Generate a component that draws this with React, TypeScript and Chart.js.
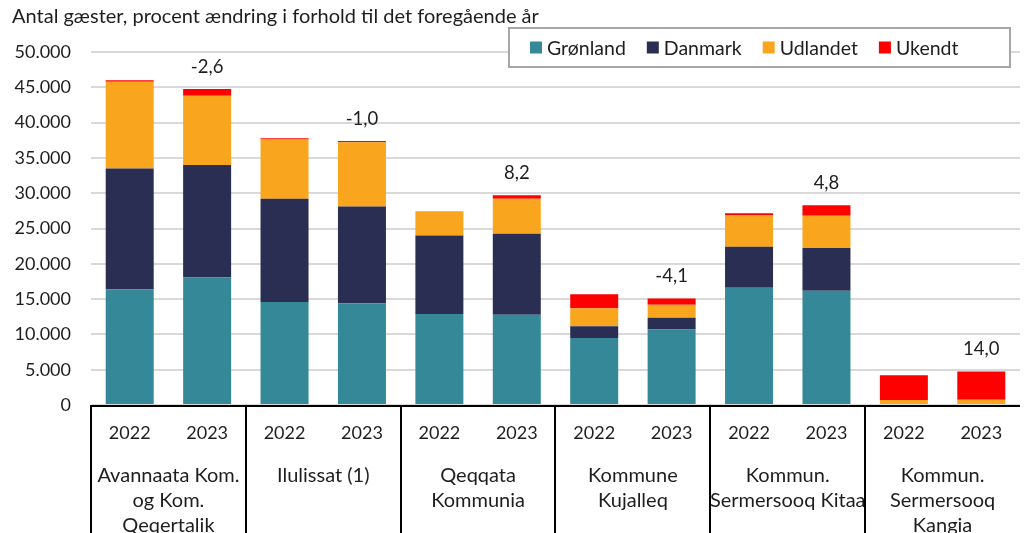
import React, { useEffect, useRef } from 'react';
import { Chart, registerables } from 'chart.js';

Chart.register(...registerables);

const years = ['2022', '2023', '2022', '2023', '2022', '2023', '2022', '2023', '2022', '2023', '2022', '2023'];
const groupLabels = [
  ['Avannaata Kom.', 'og Kom.', 'Qeqertalik'],
  ['Ilulissat (1)'],
  ['Qeqqata', 'Kommunia'],
  ['Kommune', 'Kujalleq'],
  ['Kommun.', 'Sermersooq Kitaa'],
  ['Kommun.', 'Sermersooq', 'Kangia'],
];
const gronland = [16400, 18100, 14600, 14400, 12900, 12800, 9500, 10700, 16600, 16200, 0, 0];
const danmark = [17100, 15900, 14600, 13700, 11100, 11450, 1650, 1650, 5800, 6050, 0, 0];
const udlandet = [12300, 9800, 8400, 9100, 3450, 4950, 2550, 1850, 4500, 4550, 700, 750];
const ukendt = [200, 950, 200, 200, 0, 500, 2000, 900, 250, 1500, 3500, 4000];
const pctChange = [null, '-2,6', null, '-1,0', null, '8,2', null, '-4,1', null, '4,8', null, '14,0'];
const yTicks = [0, 5000, 10000, 15000, 20000, 25000, 30000, 35000, 40000, 45000, 50000];
const title = 'Antal gæster, procent ændring i forhold til det foregående år';

const seriesNames = ['Grønland', 'Danmark', 'Udlandet', 'Ukendt'];
const seriesColors = ['#358898', '#2a2e52', '#f9a51e', '#ff0000'];

const FONT = 'Lato, "Open Sans", sans-serif';
const TEXT = '#1e1e1e';

const fmt = (n: number) => String(n).replace(/\B(?=(\d{3})+(?!\d))/g, '.');

const overlayPlugin = {
  id: 'overlay',
  afterDraw(chart: any) {
    const { ctx, chartArea, scales } = chart;
    const xs = scales.x;
    const ys = scales.y;
    const step = xs.getPixelForValue(1) - xs.getPixelForValue(0);
    ctx.save();

    // title
    ctx.fillStyle = TEXT;
    ctx.font = `20px ${FONT}`;
    ctx.textAlign = 'left';
    ctx.textBaseline = 'alphabetic';
    ctx.fillText(title, 12, 23);

    // x axis line
    ctx.strokeStyle = '#000';
    ctx.lineWidth = 2;
    ctx.beginPath();
    ctx.moveTo(chartArea.left, chartArea.bottom + 1);
    ctx.lineTo(chartArea.right, chartArea.bottom + 1);
    ctx.stroke();

    // group separators and labels
    for (let g = 0; g < groupLabels.length; g++) {
      const left = xs.getPixelForValue(g * 2) - step / 2;
      ctx.beginPath();
      ctx.moveTo(Math.round(left), chartArea.bottom);
      ctx.lineTo(Math.round(left), chart.height);
      ctx.stroke();
      const cx = left + step;
      ctx.textAlign = 'center';
      ctx.textBaseline = 'middle';
      ctx.fillStyle = TEXT;
      ctx.font = `20px ${FONT}`;
      groupLabels[g].forEach((line, k) => {
        ctx.fillText(line, cx, 476 + k * 25);
      });
    }

    // percent change labels
    ctx.font = `18.5px ${FONT}`;
    ctx.textAlign = 'center';
    ctx.textBaseline = 'middle';
    ctx.fillStyle = TEXT;
    pctChange.forEach((lab, i) => {
      if (!lab) return;
      const total = gronland[i] + danmark[i] + udlandet[i] + ukendt[i];
      const py = ys.getPixelForValue(total) - 22;
      ctx.fillText(lab, xs.getPixelForValue(i), py);
    });

    // legend
    const bx = 509, by = 28, bw = 501, bh = 39;
    ctx.fillStyle = '#fff';
    ctx.fillRect(bx, by, bw, bh);
    ctx.strokeStyle = '#a6a6a6';
    ctx.lineWidth = 2;
    ctx.strokeRect(bx, by, bw, bh);
    let lx = 530;
    const ly = by + bh / 2;
    ctx.font = `19.5px ${FONT}`;
    ctx.textAlign = 'left';
    ctx.textBaseline = 'middle';
    seriesNames.forEach((name, i) => {
      ctx.fillStyle = seriesColors[i];
      ctx.fillRect(lx, ly - 6, 12, 12);
      ctx.fillStyle = TEXT;
      ctx.fillText(name, lx + 17, ly + 1);
      lx += 17 + ctx.measureText(name).width + 21;
    });

    ctx.restore();
  },
};

export default function App() {
  const ref = useRef<HTMLCanvasElement>(null);
  useEffect(() => {
    document.body.style.margin = '0';
    const canvas = ref.current;
    if (!canvas) return;
    const data = [gronland, danmark, udlandet, ukendt];
    const chart = new Chart(canvas, {
      type: 'bar',
      data: {
        labels: years,
        datasets: seriesNames.map((name, i) => ({
          label: name,
          data: data[i],
          backgroundColor: seriesColors[i],
          borderWidth: 0,
          categoryPercentage: 1,
          barPercentage: 0.62,
        })),
      },
      options: {
        responsive: false,
        animation: false,
        layout: { padding: { top: 52, right: 5, bottom: 0, left: 0 } },
        plugins: {
          legend: { display: false },
          tooltip: { enabled: false },
          title: { display: false },
        },
        scales: {
          x: {
            stacked: true,
            grid: { display: false, drawTicks: false },
            border: { display: false },
            ticks: {
              color: TEXT,
              font: { family: FONT, size: 18 },
              padding: 17,
              maxRotation: 0,
              autoSkip: false,
            },
            afterFit: (s: any) => {
              s.height = 128;
            },
          },
          y: {
            stacked: true,
            min: 0,
            max: 50000,
            afterBuildTicks: (s: any) => {
              s.ticks = yTicks.map((v) => ({ value: v }));
            },
            grid: { color: '#d9d9d9', lineWidth: 2, drawTicks: false },
            border: { display: false },
            ticks: {
              color: TEXT,
              font: { family: FONT, size: 18 },
              padding: 20,
              callback: (v: any) => fmt(Number(v)),
            },
            afterFit: (s: any) => {
              s.width = 91;
            },
          },
        },
      },
      plugins: [overlayPlugin],
    });
    return () => chart.destroy();
  }, []);
  return (
    <div style={{ width: 1025, height: 533 }}>
      <canvas ref={ref} width={1025} height={533} />
    </div>
  );
}
